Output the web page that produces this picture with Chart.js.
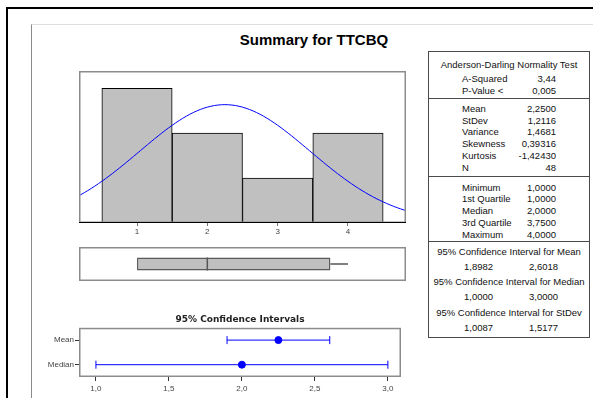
<!DOCTYPE html>
<html lang="en">
<head>
<meta charset="UTF-8">
<title>Summary for TTCBQ</title>
<script src="https://cdn.jsdelivr.net/npm/chart.js@4.4.1/dist/chart.umd.min.js"></script>
<style>
  body { margin: 0; width: 593px; height: 398px; position: relative; overflow: hidden; background: #fff;
         font-family: "Liberation Sans", Arial, sans-serif; color: #111; }
  .outer { position: absolute; left: 6px; top: 7px; width: 600px; height: 400px;
           border-left: 2px solid #000; border-top: 2px solid #000; }
  .inner { position: absolute; left: 31px; top: 24px; width: 600px; height: 400px;
           border-left: 1px solid #8a8a8a; border-top: 1px solid #dedede; }
  #title { position: absolute; left: 214px; width: 200px; top: 31px; text-align: center;
           font-size: 15px; line-height: 18px; font-weight: bold; color: #000; }
  .plot { position: absolute; }
  #stats { position: absolute; left: 428px; top: 51px; width: 160px; height: 285px;
           border: 1px solid #4a4a4a; font-size: 9.5px; }
  #stats .rule { position: absolute; left: 0; right: 0; height: 0; border-top: 1px solid #4a4a4a; }
  #stats .row { position: absolute; height: 12px; line-height: 12px; white-space: nowrap; }
</style>
</head>
<body>
<div class="outer"></div>
<div class="inner"></div>
<div id="title">Summary for TTCBQ</div>

<div class="plot" style="left:79px; top:71px;"><canvas id="hist" width="327" height="166"></canvas></div>
<div class="plot" style="left:79px; top:247px;"><canvas id="box" width="327" height="34"></canvas></div>
<div class="plot" style="left:29px; top:314px;"><canvas id="ci" width="377" height="83"></canvas></div>
<div id="stats"></div>

<script>
  // histogram: class midpoints and counts
  const histX = [1, 2, 3, 4];
  const histCounts = [18, 12, 6, 12];

  // Anderson-Darling normality test
  const adLabels = ['A-Squared', 'P-Value <'];
  const adValues = [3.44, 0.005];
  const adDigits = [2, 3];

  // moments
  const momentLabels = ['Mean', 'StDev', 'Variance', 'Skewness', 'Kurtosis', 'N'];
  const momentValues = [2.25, 1.2116, 1.4681, 0.39316, -1.4243, 48];
  const momentDigits = [4, 4, 4, 5, 5, 0];

  // five number summary
  const quartileLabels = ['Minimum', '1st Quartile', 'Median', '3rd Quartile', 'Maximum'];
  const quartileValues = [1, 1, 2, 3.75, 4];

  // 95% confidence intervals: mean, median, stdev
  const ciTitles = ['95% Confidence Interval for Mean', '95% Confidence Interval for Median', '95% Confidence Interval for StDev'];
  const ciLow = [1.8982, 1, 1.0087];
  const ciHigh = [2.6018, 3, 1.5177];

  const ciRows = ['Mean', 'Median'];
  const ciTicks = [1, 1.5, 2, 2.5, 3];

  const FONT = '"Liberation Sans", Arial, sans-serif';
  const BLUE = '#0000ff';
  const fmt = (v, d) => v.toFixed(d).replace('.', ',');

  const mean = momentValues[0], sd = momentValues[1], nObs = momentValues[5];
  const median = quartileValues[2];

  // gray box round the plot area, optional darker base line
  const frame = {
    id: 'frame',
    afterDraw(chart, args, opts) {
      const { ctx, chartArea: a } = chart;
      ctx.save();
      ctx.strokeStyle = '#8c8c8c';
      ctx.lineWidth = 1.5;
      ctx.strokeRect(a.left + 0.75, a.top + 0.75, a.width - 1.5, a.height - 1.5);
      if (opts.base) {
        ctx.strokeStyle = opts.base;
        ctx.lineWidth = 1;
        ctx.beginPath();
        ctx.moveTo(a.left, a.bottom - 0.5);
        ctx.lineTo(a.right, a.bottom - 0.5);
        ctx.stroke();
      }
      ctx.restore();
    }
  };

  // fitted normal curve, scaled to counts (class width 1)
  const curve = [];
  for (let x = 0.15; x <= 4.86; x += 0.05) {
    const z = (x - mean) / sd;
    curve.push({ x, y: nObs / (sd * Math.sqrt(2 * Math.PI)) * Math.exp(-0.5 * z * z) });
  }

  new Chart(document.getElementById('hist'), {
    type: 'bar',
    data: {
      datasets: [
        { type: 'line', data: curve, borderColor: BLUE, borderWidth: 1, pointRadius: 0, order: 0 },
        {
          data: histX.map((x, i) => ({ x, y: histCounts[i] })),
          backgroundColor: '#c0c0c0', borderColor: '#000', borderWidth: 1, borderSkipped: false,
          barPercentage: 1, categoryPercentage: 1, order: 1
        }
      ]
    },
    options: {
      responsive: false, animation: false, events: [],
      plugins: { legend: { display: false }, tooltip: { enabled: false }, frame: { base: '#000' } },
      scales: {
        x: {
          type: 'linear', min: 0.175, max: 4.825, offset: false,
          afterBuildTicks: s => { s.ticks = histX.map(v => ({ value: v })); },
          afterFit: s => { s.height = 14; },
          grid: { drawOnChartArea: false, offset: false, tickLength: 3, color: '#777' },
          border: { display: false },
          ticks: { font: { size: 8, family: FONT }, color: '#444', padding: 1 }
        },
        y: { display: false, min: 0, max: 20.3 }
      }
    },
    plugins: [frame]
  });

  // median line and whiskers for the boxplot
  const boxParts = {
    id: 'boxParts',
    afterDatasetsDraw(chart) {
      const { ctx, scales: { x } } = chart;
      const bar = chart.getDatasetMeta(0).data[0];
      const top = bar.y - bar.height / 2, bottom = bar.y + bar.height / 2;
      const px = v => x.getPixelForValue(v);
      ctx.save();
      ctx.strokeStyle = '#555';
      ctx.lineWidth = 1.5;
      ctx.beginPath();
      ctx.moveTo(px(median), top);
      ctx.lineTo(px(median), bottom);
      ctx.moveTo(px(quartileValues[0]), bar.y);
      ctx.lineTo(px(quartileValues[1]), bar.y);
      ctx.moveTo(px(quartileValues[3]), bar.y);
      ctx.lineTo(px(quartileValues[4]), bar.y);
      ctx.stroke();
      ctx.restore();
    }
  };

  new Chart(document.getElementById('box'), {
    type: 'bar',
    data: {
      labels: [''],
      datasets: [{
        data: [[quartileValues[1], quartileValues[3]]],
        backgroundColor: '#c0c0c0', borderColor: '#5a5a5a', borderWidth: 1.5, borderSkipped: false,
        barPercentage: 0.38, categoryPercentage: 1
      }]
    },
    options: {
      indexAxis: 'y', responsive: false, animation: false, events: [],
      plugins: { legend: { display: false }, tooltip: { enabled: false }, frame: {} },
      scales: {
        x: { type: 'linear', min: 0.175, max: 4.825, display: false },
        y: { display: false }
      }
    },
    plugins: [frame, boxParts]
  });

  // confidence interval plot
  const ciCentres = [mean, median];
  const intervalSets = ciRows.map((row, i) => ({
    type: 'line',
    data: [{ x: ciLow[i], y: row }, { x: ciHigh[i], y: row }],
    borderColor: BLUE, borderWidth: 1,
    pointStyle: 'line', pointRotation: 90, pointRadius: 4,
    pointBorderColor: BLUE, pointBorderWidth: 1
  }));

  new Chart(document.getElementById('ci'), {
    type: 'scatter',
    data: {
      datasets: [
        ...intervalSets,
        {
          data: ciRows.map((row, i) => ({ x: ciCentres[i], y: row })),
          pointRadius: 3.5, backgroundColor: BLUE, borderColor: BLUE
        }
      ]
    },
    options: {
      responsive: false, animation: false, events: [],
      layout: { padding: 0 },
      plugins: {
        legend: { display: false }, tooltip: { enabled: false }, frame: {},
        title: {
          display: true, fullSize: false, text: '95% Confidence Intervals', color: '#222',
          font: { size: 9, weight: 'bold', family: '"DejaVu Sans", Verdana, sans-serif' },
          padding: { top: 0, bottom: 3 }
        }
      },
      scales: {
        x: {
          type: 'linear', min: 0.884, max: 3.09,
          afterBuildTicks: s => { s.ticks = ciTicks.map(v => ({ value: v })); },
          afterFit: s => { s.height = 20; },
          grid: { drawOnChartArea: false, tickLength: 4, color: '#333' },
          border: { display: false },
          ticks: { font: { size: 8, family: FONT }, color: '#444', padding: 3, callback: v => fmt(v, 1) }
        },
        y: {
          type: 'category', labels: ciRows, offset: true,
          afterFit: s => { s.width = 50; },
          grid: { drawOnChartArea: false, offset: false, tickLength: 4, color: '#333' },
          border: { display: false },
          ticks: { font: { size: 8, family: FONT }, color: '#444', padding: 1 }
        }
      }
    },
    plugins: [frame]
  });

  // statistics table
  const stats = document.getElementById('stats');
  const LABEL_X = 33, VALUE_R = 33;   // from the table's left / right edges

  function addText(text, y, style) {
    const el = document.createElement('div');
    el.className = 'row';
    el.textContent = text;
    el.style.top = (y - 6) + 'px';
    Object.assign(el.style, style);
    stats.appendChild(el);
  }
  function addRule(y) {
    const el = document.createElement('div');
    el.className = 'rule';
    el.style.top = y + 'px';
    stats.appendChild(el);
  }
  function addPairs(labels, values, digits, y0, step) {
    labels.forEach((lab, i) => {
      const y = y0 + i * step;
      addText(lab, y, { left: LABEL_X + 'px' });
      addText(fmt(values[i], digits[i]), y, { right: VALUE_R + 'px', textAlign: 'right' });
    });
  }

  addText('Anderson-Darling Normality Test', 13, { left: 0, right: 0, textAlign: 'center' });
  addPairs(adLabels, adValues, adDigits, 27, 11.5);
  addRule(46);
  addPairs(momentLabels, momentValues, momentDigits, 57, 11.7);
  addRule(124);
  addPairs(quartileLabels, quartileValues, quartileValues.map(() => 4), 135.5, 11.8);
  addRule(189);
  ciTitles.forEach((t, i) => {
    const y = 199.5 + i * 30.6;
    addText(t, y, { left: 0, right: 0, textAlign: 'center' });
    addText(fmt(ciLow[i], 4), y + 15.3, { left: '35px' });
    addText(fmt(ciHigh[i], 4), y + 15.3, { left: '100px' });
  });
</script>
</body>
</html>
